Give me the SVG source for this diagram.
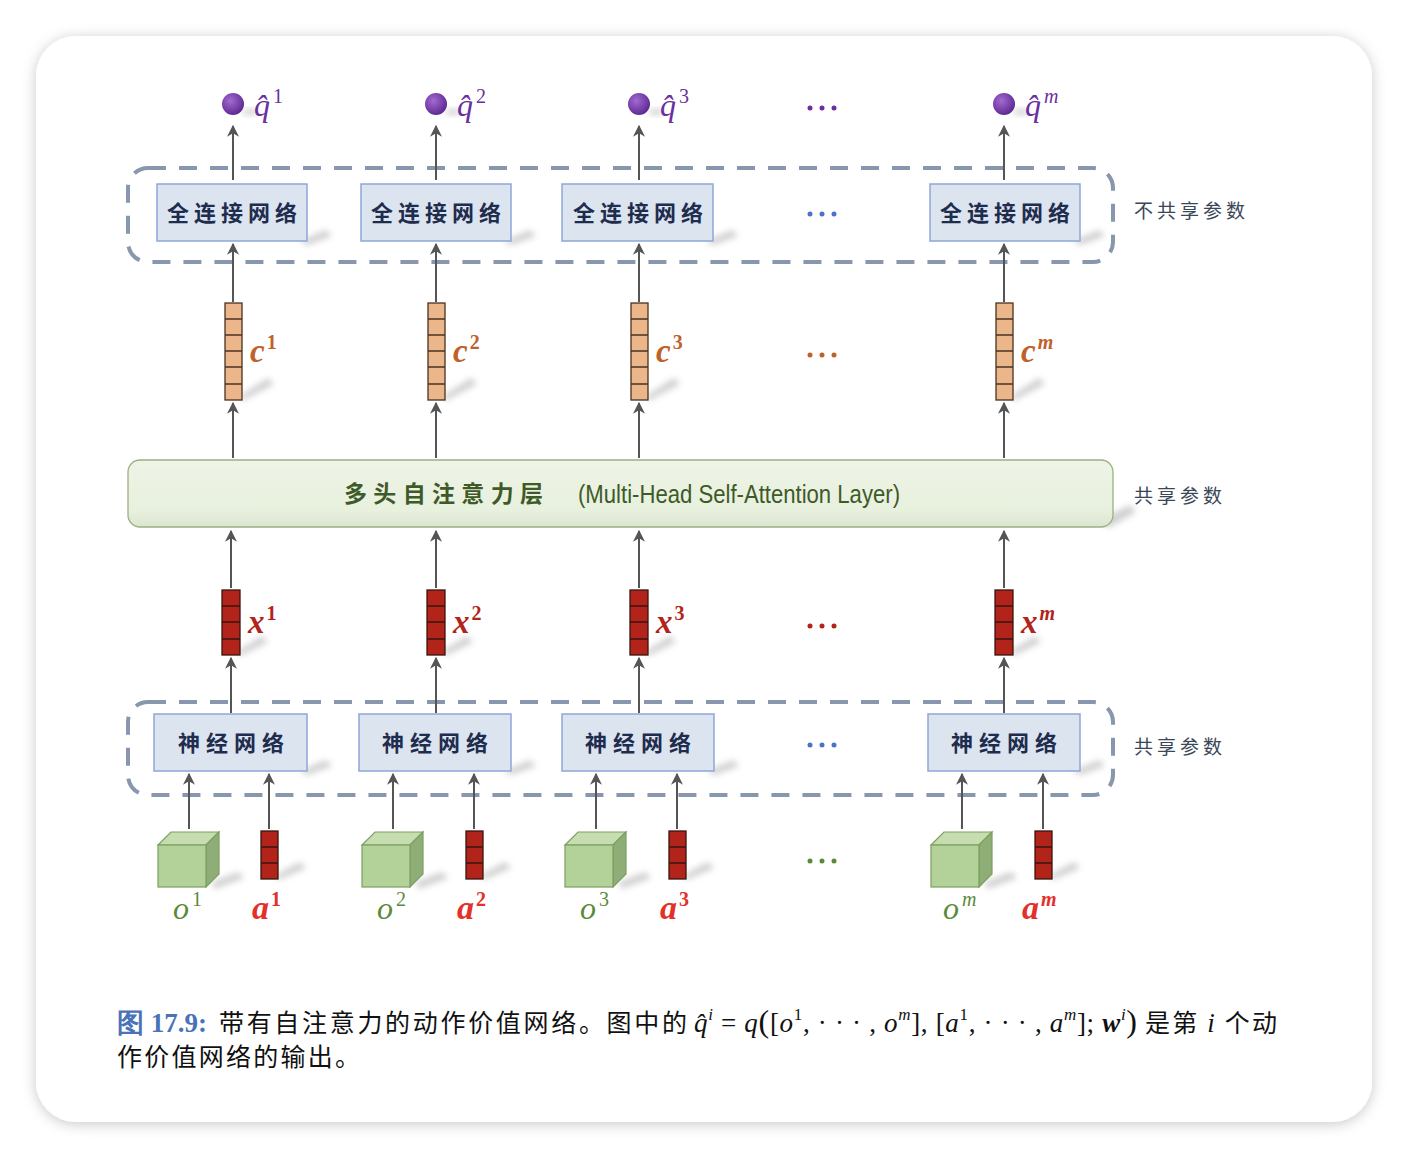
<svg xmlns="http://www.w3.org/2000/svg" width="1408" height="1158" viewBox="0 0 1408 1158">
<defs>
<style>
.arr{stroke:#555;stroke-width:2;fill:none;marker-end:url(#ah)}
.dash{fill:none;stroke:#8897ad;stroke-width:4;stroke-dasharray:18 13}
.box{fill:#dce4f0;stroke:#8ea7d6;stroke-width:1.5}
.boxt{font-family:"Noto Sans CJK SC",sans-serif;font-weight:700;font-size:22px;fill:#1e2c4e;text-anchor:middle}
.side{font-family:"Noto Sans CJK SC",sans-serif;font-size:19px;fill:#3a4756;letter-spacing:4px}
.cv{fill:#ebb68a;stroke:#4a3220;stroke-width:1.3}
.xv{fill:#b2231a;stroke:#3a1510;stroke-width:1.3}
.cf{fill:#b3d29a;stroke:#7c9f60;stroke-width:1.2}
.ct{fill:#c6ddb0;stroke:#7c9f60;stroke-width:1.2}
.cs{fill:#8fae77;stroke:#7c9f60;stroke-width:1.2}
.sh{fill:#777;opacity:.35;filter:url(#blur)}
.math{font-family:"Liberation Serif",serif;font-style:italic}
.ql{font-size:32px;fill:#6a2fa0}
.cl{font-size:33px;fill:#c0602a;font-weight:700}
.xl{font-size:33px;fill:#b2231a;font-weight:700}
.ol{font-size:32px;fill:#5a8a3a}
.al{font-size:34px;fill:#e4302a;font-weight:700}
.sup{font-size:20px;font-style:normal}
.supi{font-size:20px;font-style:italic}
.cap{font-family:"Noto Sans CJK SC",sans-serif;font-size:25px;fill:#111}
.capm{font-family:"Liberation Serif",serif;font-size:27px;fill:#111}
</style>
<marker id="ah" viewBox="0 0 10 10" refX="9" refY="5" markerWidth="6" markerHeight="6" orient="auto" markerUnits="strokeWidth">
<path d="M0,0 L10,5 L0,10 L3,5 z" fill="#555"/>
</marker>
<filter id="card" x="-5%" y="-5%" width="110%" height="110%"><feDropShadow dx="0" dy="2" stdDeviation="7" flood-color="#000" flood-opacity="0.22"/></filter>
<filter id="blur" x="-50%" y="-50%" width="200%" height="200%"><feGaussianBlur stdDeviation="3"/></filter>
<radialGradient id="ball" cx="0.38" cy="0.35" r="0.7"><stop offset="0" stop-color="#a36ad0"/><stop offset="1" stop-color="#5a2690"/></radialGradient>
<linearGradient id="att" x1="0" y1="0" x2="0" y2="1"><stop offset="0" stop-color="#eef4e6"/><stop offset="0.75" stop-color="#e8f0de"/><stop offset="1" stop-color="#dbe5cf"/></linearGradient>
</defs>
<rect width="1408" height="1158" fill="#ffffff"/>
<rect x="36" y="36" width="1336" height="1086" rx="40" fill="#fff" filter="url(#card)"/>

<g id="frames">
<rect class="dash" x="128" y="168" width="985" height="94" rx="20"/>
<rect class="dash" x="128" y="702" width="985" height="93" rx="20"/>
</g>

<g id="connectors">
<line class="arr" x1="233" y1="180" x2="233" y2="126"/>
<line class="arr" x1="436" y1="180" x2="436" y2="126"/>
<line class="arr" x1="639" y1="180" x2="639" y2="126"/>
<line class="arr" x1="1004" y1="180" x2="1004" y2="126"/>
<line class="arr" x1="233" y1="302" x2="233" y2="244"/>
<line class="arr" x1="436" y1="302" x2="436" y2="244"/>
<line class="arr" x1="639" y1="302" x2="639" y2="244"/>
<line class="arr" x1="1004" y1="302" x2="1004" y2="244"/>
<line class="arr" x1="233" y1="458" x2="233" y2="403"/>
<line class="arr" x1="436" y1="458" x2="436" y2="403"/>
<line class="arr" x1="639" y1="458" x2="639" y2="403"/>
<line class="arr" x1="1004" y1="458" x2="1004" y2="403"/>
<line class="arr" x1="231" y1="588" x2="231" y2="531"/>
<line class="arr" x1="436" y1="588" x2="436" y2="531"/>
<line class="arr" x1="639" y1="588" x2="639" y2="531"/>
<line class="arr" x1="1004" y1="588" x2="1004" y2="531"/>
<line class="arr" x1="231" y1="713" x2="231" y2="658"/>
<line class="arr" x1="436" y1="713" x2="436" y2="658"/>
<line class="arr" x1="639" y1="713" x2="639" y2="658"/>
<line class="arr" x1="1004" y1="713" x2="1004" y2="658"/>
<line class="arr" x1="189" y1="829" x2="189" y2="774"/>
<line class="arr" x1="269" y1="829" x2="269" y2="774"/>
<line class="arr" x1="393" y1="829" x2="393" y2="774"/>
<line class="arr" x1="474" y1="829" x2="474" y2="774"/>
<line class="arr" x1="596" y1="829" x2="596" y2="774"/>
<line class="arr" x1="677" y1="829" x2="677" y2="774"/>
<line class="arr" x1="962" y1="829" x2="962" y2="774"/>
<line class="arr" x1="1043" y1="829" x2="1043" y2="774"/>
</g>

<!-- outputs -->
<g id="q1"><ellipse class="sh" cx="250" cy="112" rx="8" ry="3"/><circle cx="233" cy="104" r="11" fill="url(#ball)"/><text class="math ql" x="254" y="116">q̂<tspan class="sup" dy="-13" dx="3">1</tspan></text></g>
<g id="q2"><ellipse class="sh" cx="453" cy="112" rx="8" ry="3"/><circle cx="436" cy="104" r="11" fill="url(#ball)"/><text class="math ql" x="457" y="116">q̂<tspan class="sup" dy="-13" dx="3">2</tspan></text></g>
<g id="q3"><ellipse class="sh" cx="656" cy="112" rx="8" ry="3"/><circle cx="639" cy="104" r="11" fill="url(#ball)"/><text class="math ql" x="660" y="116">q̂<tspan class="sup" dy="-13" dx="3">3</tspan></text></g>
<g id="qm"><ellipse class="sh" cx="1021" cy="112" rx="8" ry="3"/><circle cx="1004" cy="104" r="11" fill="url(#ball)"/><text class="math ql" x="1025" y="116">q̂<tspan class="supi" dy="-13" dx="3">m</tspan></text></g>

<!-- FC boxes -->
<g id="fc1"><polygon class="sh" points="300,241 326,230 332,236 307,245"/><rect class="box" x="157" y="184" width="150" height="57"/><text class="boxt" x="232" y="221" textLength="130">全连接网络</text></g>
<g id="fc2"><polygon class="sh" points="504,241 530,230 536,236 511,245"/><rect class="box" x="361" y="184" width="150" height="57"/><text class="boxt" x="436" y="221" textLength="130">全连接网络</text></g>
<g id="fc3"><polygon class="sh" points="706,241 732,230 738,236 713,245"/><rect class="box" x="562" y="184" width="151" height="57"/><text class="boxt" x="638" y="221" textLength="130">全连接网络</text></g>
<g id="fcm"><polygon class="sh" points="1073,241 1099,230 1105,236 1080,245"/><rect class="box" x="930" y="184" width="150" height="57"/><text class="boxt" x="1005" y="221" textLength="130">全连接网络</text></g>

<g id="dots">
<g fill="#6a2fa0"><circle cx="810" cy="108" r="2.5"/><circle cx="822" cy="108" r="2.5"/><circle cx="834" cy="108" r="2.5"/></g>
<g fill="#4a72c8"><circle cx="810" cy="214" r="2.5"/><circle cx="822" cy="214" r="2.5"/><circle cx="834" cy="214" r="2.5"/></g>
<g fill="#c0602a"><circle cx="810" cy="355" r="2.5"/><circle cx="822" cy="355" r="2.5"/><circle cx="834" cy="355" r="2.5"/></g>
<g fill="#b2231a"><circle cx="810" cy="626" r="2.5"/><circle cx="822" cy="626" r="2.5"/><circle cx="834" cy="626" r="2.5"/></g>
<g fill="#4a72c8"><circle cx="810" cy="745" r="2.5"/><circle cx="822" cy="745" r="2.5"/><circle cx="834" cy="745" r="2.5"/></g>
<g fill="#5a8a3a"><circle cx="810" cy="861" r="2.5"/><circle cx="822" cy="861" r="2.5"/><circle cx="834" cy="861" r="2.5"/></g>
</g>

<!-- c vectors -->
<g id="c1"><polygon class="sh" points="240,396 268,378 274,384 242,401"/><rect class="cv" x="225" y="303" width="17" height="97"/><path d="M225,319h17M225,335h17M225,351h17M225,367h17M225,384h17" stroke="#4a3220" stroke-width="1.3"/><text class="math cl" x="250" y="362">c<tspan class="sup" dy="-13" dx="2">1</tspan></text></g>
<g id="c2"><polygon class="sh" points="443,396 471,378 477,384 445,401"/><rect class="cv" x="428" y="303" width="17" height="97"/><path d="M428,319h17M428,335h17M428,351h17M428,367h17M428,384h17" stroke="#4a3220" stroke-width="1.3"/><text class="math cl" x="453" y="362">c<tspan class="sup" dy="-13" dx="2">2</tspan></text></g>
<g id="c3"><polygon class="sh" points="646,396 674,378 680,384 648,401"/><rect class="cv" x="631" y="303" width="17" height="97"/><path d="M631,319h17M631,335h17M631,351h17M631,367h17M631,384h17" stroke="#4a3220" stroke-width="1.3"/><text class="math cl" x="656" y="362">c<tspan class="sup" dy="-13" dx="2">3</tspan></text></g>
<g id="cm"><polygon class="sh" points="1011,396 1039,378 1045,384 1013,401"/><rect class="cv" x="996" y="303" width="17" height="97"/><path d="M996,319h17M996,335h17M996,351h17M996,367h17M996,384h17" stroke="#4a3220" stroke-width="1.3"/><text class="math cl" x="1021" y="362">c<tspan class="supi" dy="-13" dx="2">m</tspan></text></g>

<!-- attention layer -->
<g id="attention">
<polygon class="sh" points="1100,520 1130,505 1136,512 1108,528"/>
<rect x="128" y="460" width="985" height="67" rx="12" fill="url(#att)" stroke="#9bb083" stroke-width="1.3"/>
<text x="344" y="502" font-family="'Noto Sans CJK SC',sans-serif" font-weight="700" font-size="23" fill="#3e5a28" textLength="199">多头自注意力层</text>
<text x="578" y="503" font-family="'Liberation Sans',sans-serif" font-size="25" fill="#3e5a28" textLength="322" lengthAdjust="spacingAndGlyphs">(Multi-Head Self-Attention Layer)</text>
</g>

<!-- x vectors -->
<g id="x1"><polygon class="sh" points="238,651 262,636 268,642 240,656"/><rect class="xv" x="222" y="590" width="18" height="65"/><path d="M222,606h18M222,622h18M222,639h18" stroke="#3a1510" stroke-width="1.3"/><text class="math xl" x="248" y="633">x<tspan class="sup" dy="-13" dx="2">1</tspan></text></g>
<g id="x2"><polygon class="sh" points="443,651 467,636 473,642 445,656"/><rect class="xv" x="427" y="590" width="18" height="65"/><path d="M427,606h18M427,622h18M427,639h18" stroke="#3a1510" stroke-width="1.3"/><text class="math xl" x="453" y="633">x<tspan class="sup" dy="-13" dx="2">2</tspan></text></g>
<g id="x3"><polygon class="sh" points="646,651 670,636 676,642 648,656"/><rect class="xv" x="630" y="590" width="18" height="65"/><path d="M630,606h18M630,622h18M630,639h18" stroke="#3a1510" stroke-width="1.3"/><text class="math xl" x="656" y="633">x<tspan class="sup" dy="-13" dx="2">3</tspan></text></g>
<g id="xm"><polygon class="sh" points="1011,651 1035,636 1041,642 1013,656"/><rect class="xv" x="995" y="590" width="18" height="65"/><path d="M995,606h18M995,622h18M995,639h18" stroke="#3a1510" stroke-width="1.3"/><text class="math xl" x="1021" y="633">x<tspan class="supi" dy="-13" dx="2">m</tspan></text></g>

<!-- neural network boxes -->
<g id="nn1"><polygon class="sh" points="300,771 326,760 332,766 307,775"/><rect class="box" x="154" y="714" width="153" height="57"/><text class="boxt" x="231" y="751" textLength="106">神经网络</text></g>
<g id="nn2"><polygon class="sh" points="504,771 530,760 536,766 511,775"/><rect class="box" x="359" y="714" width="152" height="57"/><text class="boxt" x="435" y="751" textLength="106">神经网络</text></g>
<g id="nn3"><polygon class="sh" points="707,771 733,760 739,766 714,775"/><rect class="box" x="562" y="714" width="152" height="57"/><text class="boxt" x="638" y="751" textLength="106">神经网络</text></g>
<g id="nnm"><polygon class="sh" points="1073,771 1099,760 1105,766 1080,775"/><rect class="box" x="928" y="714" width="152" height="57"/><text class="boxt" x="1004" y="751" textLength="106">神经网络</text></g>

<!-- inputs: o cubes -->
<g id="o1"><polygon class="sh" points="212,882 238,872 244,878 214,889"/><polygon class="ct" points="158,845 171,832 219,832 206,845"/><polygon class="cs" points="206,845 219,832 219,874 206,887"/><rect class="cf" x="158" y="845" width="48" height="42"/><text class="math ol" x="173" y="919">o<tspan class="sup" dy="-13" dx="3">1</tspan></text></g>
<g id="o2"><polygon class="sh" points="416,882 442,872 448,878 418,889"/><polygon class="ct" points="362,845 375,832 423,832 410,845"/><polygon class="cs" points="410,845 423,832 423,874 410,887"/><rect class="cf" x="362" y="845" width="48" height="42"/><text class="math ol" x="377" y="919">o<tspan class="sup" dy="-13" dx="3">2</tspan></text></g>
<g id="o3"><polygon class="sh" points="619,882 645,872 651,878 621,889"/><polygon class="ct" points="565,845 578,832 626,832 613,845"/><polygon class="cs" points="613,845 626,832 626,874 613,887"/><rect class="cf" x="565" y="845" width="48" height="42"/><text class="math ol" x="580" y="919">o<tspan class="sup" dy="-13" dx="3">3</tspan></text></g>
<g id="om"><polygon class="sh" points="985,882 1011,872 1017,878 987,889"/><polygon class="ct" points="931,845 944,832 992,832 979,845"/><polygon class="cs" points="979,845 992,832 992,874 979,887"/><rect class="cf" x="931" y="845" width="48" height="42"/><text class="math ol" x="943" y="919">o<tspan class="supi" dy="-13" dx="3">m</tspan></text></g>

<!-- inputs: a vectors -->
<g id="a1"><polygon class="sh" points="276,875 300,862 306,868 278,880"/><rect class="xv" x="261" y="831" width="17" height="48"/><path d="M261,847h17M261,863h17" stroke="#3a1510" stroke-width="1.3"/><text class="math al" x="252" y="919">a<tspan class="sup" dy="-13" dx="2">1</tspan></text></g>
<g id="a2"><polygon class="sh" points="481,875 505,862 511,868 483,880"/><rect class="xv" x="466" y="831" width="17" height="48"/><path d="M466,847h17M466,863h17" stroke="#3a1510" stroke-width="1.3"/><text class="math al" x="457" y="919">a<tspan class="sup" dy="-13" dx="2">2</tspan></text></g>
<g id="a3"><polygon class="sh" points="684,875 708,862 714,868 686,880"/><rect class="xv" x="669" y="831" width="17" height="48"/><path d="M669,847h17M669,863h17" stroke="#3a1510" stroke-width="1.3"/><text class="math al" x="660" y="919">a<tspan class="sup" dy="-13" dx="2">3</tspan></text></g>
<g id="am"><polygon class="sh" points="1050,875 1074,862 1080,868 1052,880"/><rect class="xv" x="1035" y="831" width="17" height="48"/><path d="M1035,847h17M1035,863h17" stroke="#3a1510" stroke-width="1.3"/><text class="math al" x="1022" y="919">a<tspan class="supi" dy="-13" dx="2">m</tspan></text></g>

<!-- side labels -->
<g id="labels">
<text class="side" x="1134" y="218">不共享参数</text>
<text class="side" x="1134" y="503">共享参数</text>
<text class="side" x="1134" y="754">共享参数</text>
</g>

<!-- caption -->
<g id="caption">
<text x="117" y="1032" font-family="'Liberation Serif',serif" font-weight="700" font-size="27" fill="#4a72b8">图 17.9:</text>
<text class="cap" x="219" y="1032" textLength="468">带有自注意力的动作价值网络。图中的</text>
<text class="capm" x="694" y="1032" textLength="443"><tspan font-style="italic">q̂</tspan><tspan font-size="17" font-style="italic" dy="-12">i</tspan><tspan dy="12"> = </tspan><tspan font-style="italic">q</tspan><tspan font-size="32">(</tspan>[<tspan font-style="italic">o</tspan><tspan font-size="17" dy="-12">1</tspan><tspan dy="12">, · · · , </tspan><tspan font-style="italic">o</tspan><tspan font-size="17" font-style="italic" dy="-12">m</tspan><tspan dy="12">], [</tspan><tspan font-style="italic">a</tspan><tspan font-size="17" dy="-12">1</tspan><tspan dy="12">, · · · , </tspan><tspan font-style="italic">a</tspan><tspan font-size="17" font-style="italic" dy="-12">m</tspan><tspan dy="12">]; </tspan><tspan font-weight="700" font-style="italic">w</tspan><tspan font-size="17" font-style="italic" dy="-12">i</tspan><tspan dy="12" font-size="32">)</tspan></text>
<text class="cap" x="1145" y="1032" textLength="132">是第 <tspan class="capm" font-style="italic">i</tspan> 个动</text>
<text class="cap" x="117" y="1066" textLength="243">作价值网络的输出。</text>
</g>
</svg>
